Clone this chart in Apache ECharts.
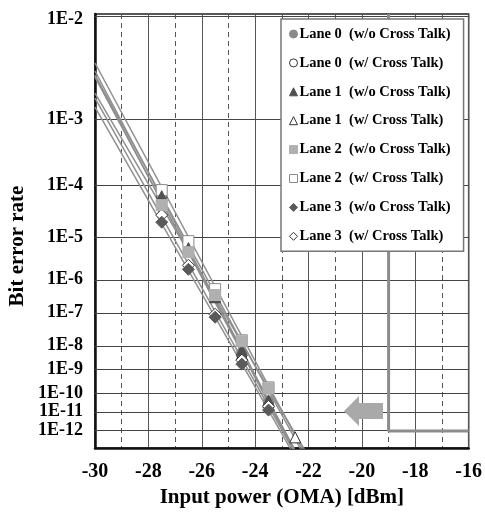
<!DOCTYPE html>
<html>
<head>
<meta charset="utf-8">
<script src="https://cdn.jsdelivr.net/npm/echarts@6/dist/echarts.min.js"></script>
<style>
  html, body { margin: 0; padding: 0; background: #fff; }
  #chart { width: 485px; height: 516px; }
</style>
</head>
<body>
<div id="chart"></div>
<script>
// Received optical power (OMA, dBm) for the measured points
const powerDbm = [-27.5, -26.5, -25.5, -24.5, -23.5, -22.5];

// Legend names
const laneNames = [
  'Lane 0  (w/o Cross Talk)',
  'Lane 0  (w/ Cross Talk)',
  'Lane 1  (w/o Cross Talk)',
  'Lane 1  (w/ Cross Talk)',
  'Lane 2  (w/o Cross Talk)',
  'Lane 2  (w/ Cross Talk)',
  'Lane 3  (w/o Cross Talk)',
  'Lane 3  (w/ Cross Talk)'
];

// Measured bit error rate per lane (null = not measured)
const lane0NoXT = [5.97e-5, 5.6e-6, 3.3e-7, 4.7e-9, 3.6e-11, null];
const lane0XT   = [5.97e-5, 5.6e-6, 3.3e-7, 3.6e-9, 2.8e-11, null];
const lane1NoXT = [7.05e-5, 6.2e-6, 3.3e-7, 5.6e-9, 4.0e-11, null];
const lane1XT   = [8.3e-5, 7.2e-6, 3.3e-7, 3.9e-9, 3.2e-11, 4.3e-13];
const lane2NoXT = [4.83e-5, 5.0e-6, 3.8e-7, 1.2e-8, 1.46e-10, null];
const lane2XT   = [9.0e-5, 8.9e-6, 5.6e-7, 1.3e-8, 1.6e-10, null];
const lane3NoXT = [2.25e-5, 1.9e-6, 8.0e-8, 1.6e-9, 1.3e-11, null];
const lane3XT   = [3.11e-5, 2.4e-6, 9.9e-8, 2.3e-9, 2.0e-11, null];

// Fitted waterfall lines: BER at -30 dBm and at -22 dBm, in legend order
const fitPower = [-30, -22];
const fitStartBer = [2.88e-3, 2.94e-3, 3.30e-3, 3.01e-3, 1.96e-3, 3.93e-3, 1.37e-3, 1.73e-3];
const fitEndBer   = [1.6e-15, 1.0e-15, 1.4e-15, 1.07e-14, 3.0e-14, 1.7e-14, 7.3e-16, 1.2e-15];

// BER axis ticks
const berTickValues = [1e-2, 1e-3, 1e-4, 1e-5, 1e-6, 1e-7, 1e-8, 1e-9, 1e-10, 1e-11, 1e-12];
const berTickLabels = ['1E-2', '1E-3', '1E-4', '1E-5', '1E-6', '1E-7', '1E-8', '1E-9', '1E-10', '1E-11', '1E-12'];
const berAxisBottom = 1e-13;

// Sensitivity mask outline
const maskPower = [-19, -19, -16];
const maskBer = [1e-2, 1e-12, 1e-12];

// BER scale: log of (-log10 BER - 0.5), plotted inverted
function berScale(b) { return Math.log10(-Math.log10(b) - 0.5); }

const laneSeriesData = [lane0NoXT, lane0XT, lane1NoXT, lane1XT, lane2NoXT, lane2XT, lane3NoXT, lane3XT];

const markerStyles = [
  { symbol: 'circle',   size: 10, fill: '#8a8a8a', stroke: '#8a8a8a' },
  { symbol: 'circle',   size: 10, fill: '#ffffff', stroke: '#333333' },
  { symbol: 'triangle', size: 11, fill: '#505050', stroke: '#505050' },
  { symbol: 'triangle', size: 11, fill: '#ffffff', stroke: '#333333' },
  { symbol: 'rect',     size: 11, fill: '#b0b0b0', stroke: '#b0b0b0' },
  { symbol: 'rect',     size: 11, fill: '#ffffff', stroke: '#8a8a8a' },
  { symbol: 'diamond',  size: 12, fill: '#5a5a5a', stroke: '#5a5a5a' },
  { symbol: 'diamond',  size: 12, fill: '#ffffff', stroke: '#333333' }
];

const FONT = '"Liberation Serif", "Times New Roman", serif';

const series = [];

// Horizontal BER grid lines with their labels (top label nudged inside the frame)
series.push({
  type: 'line',
  name: '_grid',
  data: [],
  silent: true,
  z: 1,
  markLine: {
    silent: true,
    z: 1,
    symbol: ['none', 'none'],
    animation: false,
    lineStyle: { color: '#444', width: 1, type: 'solid' },
    label: {
      show: true,
      position: 'start',
      distance: 12,
      color: '#000',
      fontFamily: FONT,
      fontWeight: 'bold',
      fontSize: 18,
      formatter: p => p.name
    },
    emphasis: { disabled: true },
    data: berTickValues.map((b, i) => {
      const item = { yAxis: berScale(b), name: berTickLabels[i] };
      if (i === 0) item.label = { offset: [0, 4] };
      return item;
    })
  }
});

// Mask outline
series.push({
  type: 'line',
  name: '_mask',
  data: maskPower.map((p, i) => [p, berScale(maskBer[i])]),
  symbol: 'none',
  silent: true,
  z: 2,
  lineStyle: { color: '#8c8c8c', width: 3 },
  animation: false
});

// Fitted lines
fitStartBer.forEach((b0, i) => {
  series.push({
    type: 'line',
    name: '_fit' + i,
    data: [[fitPower[0], berScale(b0)], [fitPower[1], berScale(fitEndBer[i])]],
    symbol: 'none',
    silent: true,
    clip: true,
    z: 3,
    lineStyle: { color: '#8f8f8f', width: 1.5 },
    animation: false
  });
});

// Measured points; open markers sit beneath the filled ones
laneSeriesData.forEach((arr, i) => {
  const m = markerStyles[i];
  const isOpen = i % 2 === 1;
  series.push({
    type: 'scatter',
    name: laneNames[i],
    data: powerDbm.map((p, k) => arr[k] == null ? null : [p, berScale(arr[k])]).filter(d => d),
    symbol: m.symbol,
    symbolSize: m.size,
    z: (isOpen ? 5 : 10) + i,
    itemStyle: { color: m.fill, borderColor: m.stroke, borderWidth: 1, opacity: 1 },
    animation: false
  });
});

const chart = echarts.init(document.getElementById('chart'), null, { renderer: 'canvas' });

chart.setOption({
  backgroundColor: '#fff',
  animation: false,
  grid: {
    left: 95, right: 15, top: 14, bottom: 68,
    show: true, borderColor: '#222', borderWidth: 1.5, backgroundColor: 'transparent'
  },
  legend: {
    orient: 'vertical',
    left: 281, top: 19,
    z: 30,
    data: laneNames.map((n, i) => ({
      name: n,
      icon: markerStyles[i].symbol,
      itemStyle: { color: markerStyles[i].fill, borderColor: markerStyles[i].stroke, borderWidth: 1 }
    })),
    itemWidth: 8,
    itemHeight: 8,
    itemGap: 12.9,
    padding: [7, 13, 7, 8],
    backgroundColor: '#fff',
    borderColor: '#777',
    borderWidth: 1.5,
    borderRadius: 0,
    selectedMode: false,
    textStyle: {
      fontFamily: FONT, fontWeight: 'bold', fontSize: 14.5, color: '#000',
      lineHeight: 16, padding: [0, 0, 0, -3]
    }
  },
  xAxis: {
    type: 'value',
    min: -30, max: -16, interval: 2,
    name: 'Input power (OMA) [dBm]',
    nameLocation: 'middle',
    nameGap: 36,
    nameTextStyle: { fontFamily: FONT, fontWeight: 'bold', fontSize: 21, color: '#000' },
    axisLine: { show: true, onZero: false, lineStyle: { color: '#111', width: 2.5 } },
    axisTick: { show: false },
    axisLabel: { fontFamily: FONT, fontWeight: 'bold', fontSize: 20, color: '#000', margin: 14 },
    splitLine: { show: true, lineStyle: { color: '#555', width: 1, type: 'solid' } },
    minorTick: { show: false, splitNumber: 2 },
    minorSplitLine: { show: true, lineStyle: { color: '#555', width: 1, type: [5, 4] } }
  },
  yAxis: {
    type: 'value',
    inverse: true,
    min: berScale(berTickValues[0]),
    max: berScale(berAxisBottom),
    axisLine: { show: true, onZero: false, lineStyle: { color: '#111', width: 2.5 } },
    axisTick: { show: false },
    axisLabel: { show: false },
    splitLine: { show: false }
  },
  graphic: [
    {
      type: 'text',
      x: 18, y: 246,
      rotation: Math.PI / 2,
      style: {
        text: 'Bit error rate',
        fontFamily: FONT, fontWeight: 'bold', fontSize: 21, fill: '#000',
        textAlign: 'center', textVerticalAlign: 'middle'
      }
    },
    {
      type: 'polygon',
      z: 10,
      shape: {
        points: [[344, 411], [359, 396], [359, 403], [383, 403], [383, 419], [359, 419], [359, 426]]
      },
      style: { fill: '#a9a9a9' }
    }
  ],
  series: series
});
</script>
</body>
</html>
